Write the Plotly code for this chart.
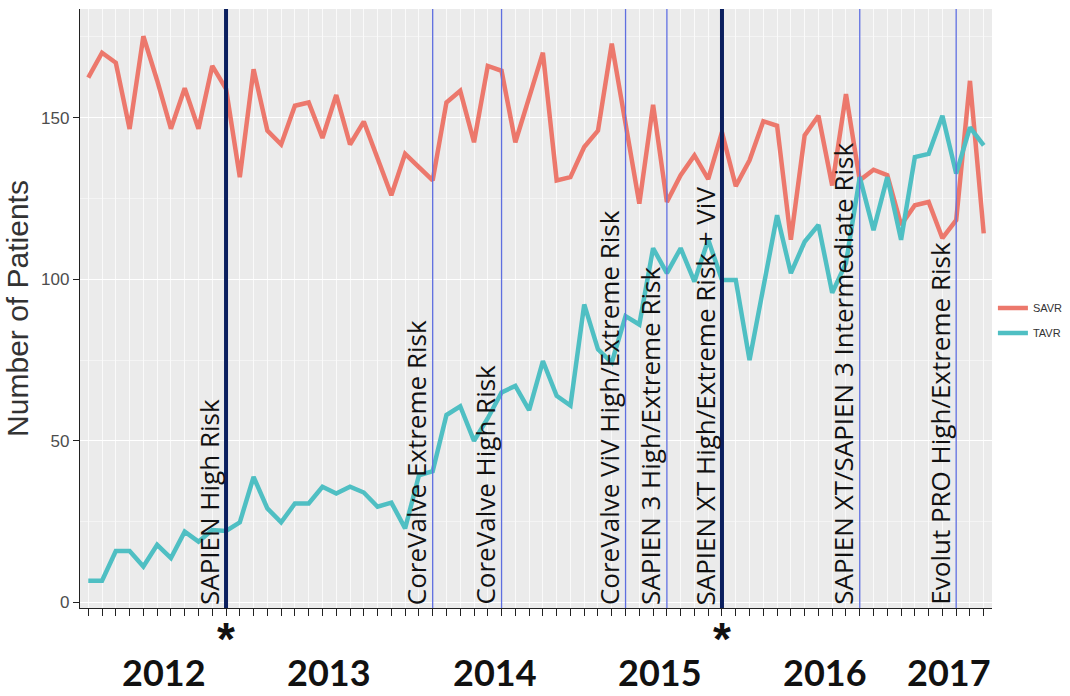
import plotly.graph_objects as go

# ---- data -------------------------------------------------------------
months = [f"{y}-{m:02d}" for y in range(2012, 2018) for m in range(1, 13)][:66]

savr = [162.4, 170.1, 167.0, 146.5, 175.2, 161.5, 146.6, 159.1, 146.6, 166.0,
        158.9, 131.6, 165.0, 146.0, 141.7, 153.7, 154.7, 143.7, 157.0, 141.7,
        148.8, 137.6, 126.0, 138.8, 134.7, 130.6, 154.7, 158.3, 142.4, 166.0,
        164.5, 142.4, 156.2, 170.1, 130.6, 131.6, 140.9, 146.0, 172.9, 148.0,
        123.4, 154.0, 123.9, 132.2, 138.3, 131.0, 145.5, 128.8, 136.8, 148.9,
        147.5, 112.2, 144.5, 150.6, 129.0, 157.3, 130.6, 133.9, 132.2, 116.8,
        122.9, 123.9, 112.7, 118.3, 161.4, 114.2]

tavr = [6.7, 6.7, 15.9, 15.9, 11.1, 17.8, 13.7, 21.9, 18.8, 22.4,
        22.1, 24.8, 38.8, 29.1, 24.8, 30.6, 30.6, 35.8, 33.7, 35.8,
        34.0, 29.6, 30.9, 22.9, 39.3, 40.6, 58.0, 60.7, 50.0, 57.0,
        65.0, 67.0, 59.5, 74.7, 63.9, 60.9, 92.2, 78.3, 74.2, 88.6,
        86.0, 109.6, 101.9, 109.6, 99.3, 112.2, 99.8, 99.8, 75.0, 97.0,
        119.8, 101.9, 111.6, 116.8, 95.8, 105.0, 131.6, 115.2, 131.6, 112.2,
        137.8, 138.8, 150.6, 132.7, 147.0, 141.4]

event_months = ["2012-11", "2014-02", "2014-07", "2015-04", "2015-07",
                "2015-11", "2016-09", "2017-04"]
event_labels = ["SAPIEN High Risk", "CoreValve Extreme Risk", "CoreValve High Risk",
                "CoreValve ViV High/Extreme Risk", "SAPIEN 3 High/Extreme Risk",
                "SAPIEN XT High/Extreme Risk + ViV",
                "SAPIEN XT/SAPIEN 3 Intermediate Risk",
                "Evolut PRO High/Extreme Risk"]
event_major = [True, False, False, False, False, True, False, False]

years = ["2012", "2013", "2014", "2015", "2016", "2017"]
y_ticks = [0, 50, 100, 150]

# ---- figure -----------------------------------------------------------
xi = list(range(len(months)))
idx = {m: i for i, m in enumerate(months)}

SAVR_COL = "#EC786C"
TAVR_COL = "#4FBFC3"

fig = go.Figure()
fig.add_trace(go.Scatter(x=xi, y=savr, mode="lines", name="SAVR", legendgroup="a",
                         line=dict(color=SAVR_COL, width=4.5), text=months))
fig.add_trace(go.Scatter(x=xi, y=tavr, mode="lines", name="TAVR", legendgroup="b",
                         line=dict(color=TAVR_COL, width=4.5), text=months))

lo, hi = min(savr + tavr), max(savr + tavr)
pad = 0.05 * (hi - lo)

shapes = []
annotations = []
for m, lab, major in zip(event_months, event_labels, event_major):
    x = idx[m]
    shapes.append(dict(type="line", xref="x", yref="paper", x0=x, x1=x, y0=0, y1=1,
                       line=dict(color="#0B1F5E" if major else "#5F6FE0",
                                 width=4 if major else 1.3), layer="above"))
    annotations.append(dict(x=x, y=0, xref="x", yref="paper", text=lab,
                            textangle=-90, xanchor="right", yanchor="bottom",
                            showarrow=False, xshift=3, yshift=1,
                            font=dict(family="Open Sans", size=26, color="#111111")))
    if major:
        annotations.append(dict(x=x, y=0, xref="x", yref="paper", text="<b>*</b>",
                                xanchor="center", yanchor="top", showarrow=False,
                                yshift=-3,
                                font=dict(family="Liberation Sans", size=46, color="#111111")))

for yr in years:
    pos = [i for i, m in enumerate(months) if m.startswith(yr)]
    c = sum(pos) / len(pos)
    annotations.append(dict(x=c, y=0, xref="x", yref="paper", text=f"<b>{yr}</b>",
                            xanchor="center", yanchor="top", showarrow=False,
                            yshift=-40,
                            font=dict(family="Lato", size=36, color="#111111")))

fig.update_layout(
    width=1070, height=696,
    margin=dict(l=80, r=78, t=9, b=88, autoexpand=False),
    paper_bgcolor="white", plot_bgcolor="#EBEBEB",
    shapes=shapes, annotations=annotations,
    showlegend=True,
    legend=dict(x=1.001, y=0.48, xanchor="left", yanchor="middle",
                font=dict(family="Liberation Sans", size=11, color="#333333"),
                bgcolor="rgba(0,0,0,0)", itemwidth=30, tracegroupgap=6),
    font=dict(family="Liberation Sans"),
)
fig.update_xaxes(range=[-0.6, len(months) - 0.4], tickmode="linear", tick0=0, dtick=1,
                 showticklabels=False, ticks="outside", ticklen=7, tickwidth=1.2,
                 tickcolor="#222222", showline=True, linecolor="#222222", linewidth=1.3,
                 showgrid=True, gridcolor="#FAFAFA", gridwidth=1, zeroline=False)
fig.update_yaxes(range=[lo - pad, hi + pad], tickvals=y_ticks, automargin=True,
                 ticks="outside", ticklen=6, tickwidth=1.2, tickcolor="#222222",
                 showline=True, linecolor="#222222", linewidth=1.3,
                 tickfont=dict(family="Liberation Sans", size=17, color="#4D4D4D"),
                 showgrid=True, gridcolor="#FFFFFF", gridwidth=1.3, zeroline=False,
                 minor=dict(tickvals=[25, 75, 125, 175], showgrid=True,
                            gridcolor="#F4F4F4", gridwidth=0.6, ticks=""),
                 title=dict(text="Number of Patients", standoff=3,
                            font=dict(family="Liberation Sans", size=30, color="#333333")))

fig.write_html("out.html")
